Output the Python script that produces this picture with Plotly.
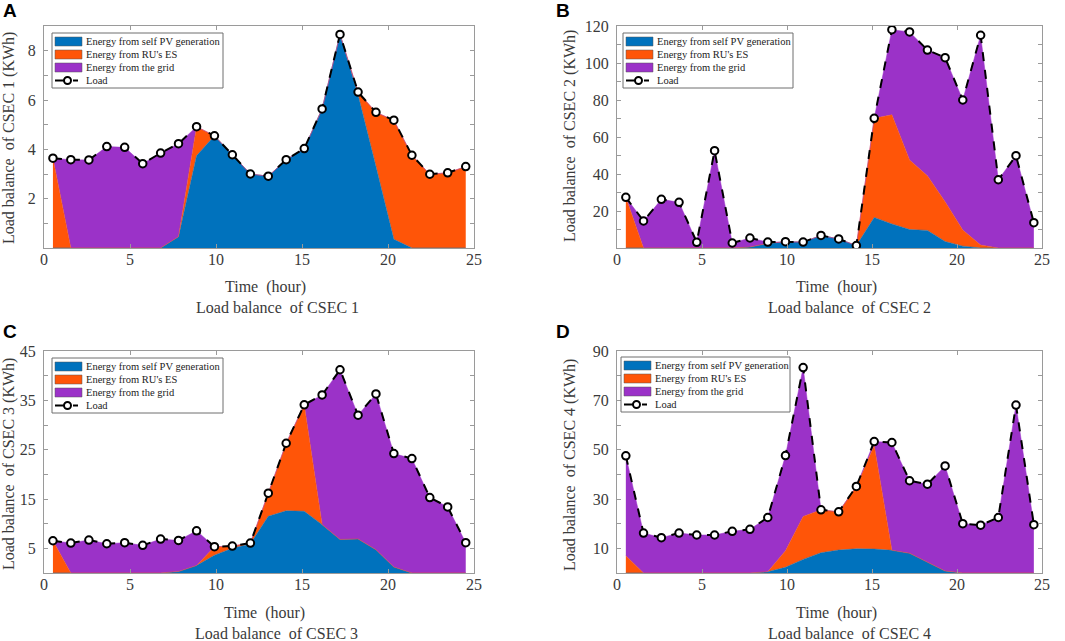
import plotly.graph_objects as go

# ---------------- data ----------------
hours = [0.52, 1.56, 2.61, 3.65, 4.69, 5.74, 6.78, 7.82, 8.87, 9.91, 10.95, 12.0,
         13.04, 14.08, 15.13, 16.17, 17.21, 18.26, 19.3, 20.34, 21.39, 22.43, 23.47, 24.52]

series_names = ["Energy from self PV generation", "Energy from RU's ES", "Energy from the grid"]
load_name = "Load"

load_a = [3.64, 3.58, 3.57, 4.11, 4.08, 3.42, 3.85, 4.23, 4.92, 4.55, 3.78, 3.00,
          2.91, 3.58, 4.03, 5.64, 8.66, 6.32, 5.50, 5.18, 3.76, 2.99, 3.05, 3.30]
pv_a = [0, 0, 0, 0, 0, 0, 0, 0.46, 3.74, 4.55, 3.78, 3.00,
        2.91, 3.58, 4.03, 5.64, 8.66, 6.20, 3.30, 0.35, 0, 0, 0, 0]
es_a = [3.64, 0, 0, 0, 0, 0, 0, 0, 1.18, 0, 0, 0,
        0, 0, 0, 0, 0, 0.12, 2.20, 4.83, 3.76, 2.99, 3.05, 3.30]
grid_a = [0, 3.58, 3.57, 4.11, 4.08, 3.42, 3.85, 3.77, 0, 0, 0, 0,
          0, 0, 0, 0, 0, 0, 0, 0, 0, 0, 0, 0]

load_b = [27.4, 14.6, 26.3, 24.7, 3.1, 52.6, 2.7, 5.4, 3.2, 3.4, 3.2, 6.8,
          4.9, 1.3, 70.1, 118.0, 116.8, 107.0, 102.9, 80.0, 115.0, 36.9, 49.9, 13.7]
pv_b = [0, 0, 0, 0, 0, 0, 0, 0.5, 2.5, 3.4, 3.2, 6.8,
        4.9, 1.3, 16.5, 13.0, 10.0, 9.5, 3.5, 1.0, 0, 0, 0, 0]
es_b = [27.4, 0, 0, 0, 0, 0, 0, 0, 0, 0, 0, 0,
        0, 0, 53.6, 59.0, 37.6, 29.5, 21.5, 8.7, 1.6, 0, 0, 0]
grid_b = [0, 14.6, 26.3, 24.7, 3.1, 52.6, 2.7, 4.9, 0.7, 0, 0, 0,
          0, 0, 0, 46.0, 69.2, 68.0, 77.9, 70.3, 113.4, 36.9, 49.9, 13.7]

load_c = [6.54, 6.07, 6.68, 5.93, 6.14, 5.60, 6.88, 6.61, 8.56, 5.33, 5.46, 6.07,
          16.18, 26.3, 34.1, 36.1, 41.2, 32.0, 36.3, 24.2, 23.2, 15.3, 13.4, 6.14]
pv_c = [0, 0, 0, 0, 0, 0, 0, 0.3, 1.5, 3.6, 5.0, 5.9,
        11.5, 12.6, 12.5, 9.8, 6.8, 6.9, 4.7, 1.2, 0, 0, 0, 0]
es_c = [6.54, 0, 0, 0, 0, 0, 0, 0, 0, 1.73, 0.46, 0.17,
        4.68, 13.7, 21.6, 0, 0, 0, 0, 0, 0, 0, 0, 0]
grid_c = [0, 6.07, 6.68, 5.93, 6.14, 5.60, 6.88, 6.31, 7.06, 0, 0, 0,
          0, 0, 0, 26.3, 34.4, 25.1, 31.6, 23.0, 23.2, 15.3, 13.4, 6.14]

load_d = [47.5, 16.2, 14.3, 16.2, 15.4, 15.4, 16.9, 17.7, 22.5, 47.6, 83.3, 25.6,
          24.8, 35.1, 53.3, 52.9, 37.4, 36.0, 43.4, 20.0, 19.4, 22.5, 68.1, 19.6]
pv_d = [0, 0, 0, 0, 0, 0, 0, 0, 0.5, 2.3, 5.5, 8.2,
        9.3, 9.8, 9.7, 9.2, 8.0, 4.5, 0.8, 0, 0, 0, 0, 0]
es_d = [7.0, 0, 0, 0, 0, 0, 0, 0, 0, 6.7, 17.4, 17.4,
        15.5, 25.3, 42.0, 0, 0, 0, 0, 0, 0, 0, 0, 0]
grid_d = [40.5, 16.2, 14.3, 16.2, 15.4, 15.4, 16.9, 17.7, 22.0, 38.6, 60.4, 0,
          0, 0, 1.6, 43.7, 29.4, 31.5, 42.6, 20.0, 19.4, 22.5, 68.1, 19.6]

x_ticks = [0, 5, 10, 15, 20, 25]
y_ticks_a = [1, 2, 3, 4, 5, 6, 7, 8]
y_labels_a = ["", "2", "", "4", "", "6", "", "8"]
y_ticks_b = [10, 20, 30, 40, 50, 60, 70, 80, 90, 100, 110, 120]
y_labels_b = ["", "20", "", "40", "", "60", "", "80", "", "100", "", "120"]
y_ticks_c = [5, 10, 15, 20, 25, 30, 35, 40, 45]
y_labels_c = ["5", "", "15", "", "25", "", "35", "", "45"]
y_ticks_d = [10, 20, 30, 40, 50, 60, 70, 80, 90]
y_labels_d = ["10", "", "30", "", "50", "", "70", "", "90"]

# ---------------- style ----------------
colors = ["#0072BD", "#FF5508", "#9B32C8"]
SERIF = "Liberation Serif"
FRAME = "#9a9a9a"
TXT = "#3a3a3a"

panels = [
    dict(load=load_a, parts=[pv_a, es_a, grid_a], yr=[0, 9], yt=y_ticks_a, yl=y_labels_a,
         xd=[44, 474], yd=[26, 248],
         leg=(52, 33, 171), letter="A", lpos=(10, 11), ytitle="Load balance  of CSEC 1 (KWh)",
         ytpos=(9, 138), xtpos=(265, 287), sub="Load balance  of CSEC 1", subpos=(277, 307)),
    dict(load=load_b, parts=[pv_b, es_b, grid_b], yr=[0, 120], yt=y_ticks_b, yl=y_labels_b,
         xd=[617, 1042], yd=[26, 248],
         leg=(623, 33, 170), letter="B", lpos=(563, 11), ytitle="Load balance  of CSEC 2 (KWh)",
         ytpos=(570, 136), xtpos=(836, 287), sub="Load balance  of CSEC 2", subpos=(849, 307)),
    dict(load=load_c, parts=[pv_c, es_c, grid_c], yr=[0, 45], yt=y_ticks_c, yl=y_labels_c,
         xd=[44, 474], yd=[351, 573],
         leg=(52, 358, 171), letter="C", lpos=(10, 331), ytitle="Load balance  of CSEC 3 (KWh)",
         ytpos=(9, 464), xtpos=(264, 613), sub="Load balance  of CSEC 3", subpos=(276, 633)),
    dict(load=load_d, parts=[pv_d, es_d, grid_d], yr=[0, 90], yt=y_ticks_d, yl=y_labels_d,
         xd=[617, 1042], yd=[351, 573],
         leg=(621, 357, 169), letter="D", lpos=(563, 331), ytitle="Load balance  of CSEC 4 (KWh)",
         ytpos=(570, 465), xtpos=(836, 613), sub="Load balance  of CSEC 4", subpos=(849, 633)),
]

W, H = 1065, 641


def px_x(v):
    return v / W


def px_y(v):
    return 1 - v / H


fig = go.Figure()
annotations = []
shapes = []
layout = {}
legend_names = series_names + [load_name]

for i, p in enumerate(panels):
    n = "" if i == 0 else str(i + 1)
    xa, ya = "x" + n, "y" + n
    for k in range(3):
        fig.add_trace(go.Scatter(
            x=hours, y=p["parts"][k], xaxis=xa, yaxis=ya, mode="lines",
            stackgroup="s" + str(i), name=series_names[k],
            line=dict(width=0.5, color=colors[k]), fillcolor=colors[k],
            showlegend=False, hoverinfo="skip"))
    fig.add_trace(go.Scatter(
        x=hours, y=p["load"], xaxis=xa, yaxis=ya, mode="lines+markers", name=load_name,
        line=dict(color="black", width=2, dash="dash"),
        marker=dict(symbol="circle", size=7.5, color="white", line=dict(color="black", width=2)),
        showlegend=False))

    layout["xaxis" + n] = dict(
        domain=[px_x(p["xd"][0]), px_x(p["xd"][1])], anchor=ya, range=[0, 25], tickvals=x_ticks,
        ticks="inside", ticklen=4, tickcolor=FRAME, showline=True, linecolor=FRAME,
        linewidth=1, mirror="ticks", showgrid=False, zeroline=False, automargin=False,
        ticklabelstandoff=-3,
        tickfont=dict(family=SERIF, size=16, color=TXT))
    layout["yaxis" + n] = dict(
        domain=[px_y(p["yd"][1]), px_y(p["yd"][0])], anchor=xa, range=p["yr"],
        tickvals=p["yt"], ticktext=p["yl"],
        ticks="inside", ticklen=4, tickcolor=FRAME, showline=True, linecolor=FRAME,
        linewidth=1, mirror="ticks", showgrid=False, zeroline=False, automargin=False,
        ticklabelstandoff=4,
        tickfont=dict(family=SERIF, size=16, color=TXT))

    # ---- legend box (drawn in pixel space) ----
    L, T, Wd = p["leg"]
    Hd = 55
    shapes.append(dict(type="rect", xref="paper", yref="paper",
                       x0=px_x(L), x1=px_x(L + Wd), y0=px_y(T + Hd), y1=px_y(T),
                       line=dict(color="#6e6e6e", width=1), fillcolor="white", layer="above"))
    for k in range(4):
        cy = T + 8.5 + 13 * k
        if k < 3:
            shapes.append(dict(type="rect", xref="paper", yref="paper",
                               x0=px_x(L + 3), x1=px_x(L + 30), y0=px_y(cy + 4.5), y1=px_y(cy - 4.5),
                               line=dict(color="#555", width=0.5), fillcolor=colors[k], layer="above"))
        else:
            shapes.append(dict(type="line", xref="paper", yref="paper",
                               x0=px_x(L + 3), x1=px_x(L + 26), y0=px_y(cy), y1=px_y(cy),
                               line=dict(color="black", width=2, dash="dash"), layer="above"))
            shapes.append(dict(type="circle", xref="paper", yref="paper",
                               x0=px_x(L + 12), x1=px_x(L + 19), y0=px_y(cy + 3.5), y1=px_y(cy - 3.5),
                               line=dict(color="black", width=2), fillcolor="white", layer="above"))
        annotations.append(dict(text=legend_names[k], x=px_x(L + 32), y=px_y(cy),
                                xref="paper", yref="paper", showarrow=False,
                                xanchor="left", yanchor="middle",
                                font=dict(family=SERIF, size=10.5, color="#222")))

    common = dict(xref="paper", yref="paper", showarrow=False, xanchor="center", yanchor="middle")
    annotations.append(dict(text="<b>" + p["letter"] + "</b>", x=px_x(p["lpos"][0]),
                            y=px_y(p["lpos"][1]),
                            font=dict(family="Liberation Sans", size=19, color="black"), **common))
    annotations.append(dict(text=p["ytitle"], x=px_x(p["ytpos"][0]), y=px_y(p["ytpos"][1]),
                            textangle=-90, font=dict(family=SERIF, size=16, color=TXT), **common))
    annotations.append(dict(text="Time  (hour)", x=px_x(p["xtpos"][0]), y=px_y(p["xtpos"][1]),
                            font=dict(family=SERIF, size=16, color=TXT), **common))
    annotations.append(dict(text=p["sub"], x=px_x(p["subpos"][0]), y=px_y(p["subpos"][1]),
                            font=dict(family=SERIF, size=16, color=TXT), **common))

fig.update_layout(
    width=W, height=H, margin=dict(l=0, r=0, t=0, b=0, pad=0, autoexpand=False),
    paper_bgcolor="white", plot_bgcolor="white", showlegend=False,
    annotations=annotations, shapes=shapes, **layout)

fig.write_html("out.html", config={"displayModeBar": False},
               post_script="document.body.style.margin='0';document.body.style.overflow='hidden';")
